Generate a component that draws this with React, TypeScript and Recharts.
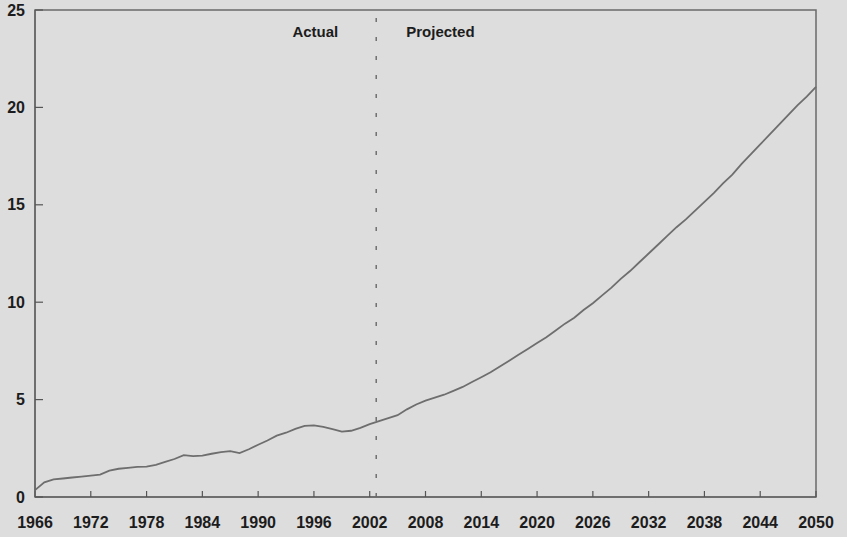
import React from "react";
import { LineChart, Line, XAxis, YAxis, ReferenceLine, ReferenceArea } from "recharts";

const years: number[] = [
  1966, 1967, 1968, 1969, 1970, 1971, 1972, 1973, 1974, 1975, 1976, 1977, 1978, 1979,
  1980, 1981, 1982, 1983, 1984, 1985, 1986, 1987, 1988, 1989, 1990, 1991, 1992, 1993,
  1994, 1995, 1996, 1997, 1998, 1999, 2000, 2001, 2002, 2003, 2004, 2005, 2006, 2007,
  2008, 2009, 2010, 2011, 2012, 2013, 2014, 2015, 2016, 2017, 2018, 2019, 2020, 2021,
  2022, 2023, 2024, 2025, 2026, 2027, 2028, 2029, 2030, 2031, 2032, 2033, 2034, 2035,
  2036, 2037, 2038, 2039, 2040, 2041, 2042, 2043, 2044, 2045, 2046, 2047, 2048, 2049, 2050,
];

const values: number[] = [
  0.35, 0.75, 0.9, 0.95, 1.0, 1.05, 1.1, 1.15, 1.35, 1.45, 1.5, 1.55, 1.56, 1.65,
  1.8, 1.95, 2.15, 2.1, 2.12, 2.22, 2.3, 2.35, 2.25, 2.45, 2.68, 2.9, 3.15, 3.3,
  3.5, 3.65, 3.68, 3.6, 3.48, 3.36, 3.4, 3.55, 3.74, 3.9, 4.05, 4.2, 4.5, 4.75,
  4.95, 5.1, 5.25, 5.45, 5.65, 5.9, 6.15, 6.4, 6.7, 7.0, 7.3, 7.6, 7.9, 8.2,
  8.55, 8.9, 9.2, 9.6, 9.95, 10.35, 10.75, 11.2, 11.6, 12.05, 12.5, 12.95, 13.4, 13.85,
  14.25, 14.7, 15.15, 15.6, 16.1, 16.55, 17.1, 17.6, 18.1, 18.6, 19.1, 19.6, 20.1, 20.55, 21.05,
];

const xTicks: number[] = [1966, 1972, 1978, 1984, 1990, 1996, 2002, 2008, 2014, 2020, 2026, 2032, 2038, 2044, 2050];
const yTicks: number[] = [0, 5, 10, 15, 20, 25];

const divideYear = 2002.7;
const leftLabel = "Actual";
const rightLabel = "Projected";

const data = years.map((y, i) => ({ year: y, value: values[i] }));

const FONT = "'Liberation Sans', Arial, sans-serif";
const tickStyle = { fontFamily: FONT, fontSize: 16, fontWeight: 700, fill: "#1c1c1c" };

const DividerLabel = (props: any) => {
  const vb = props.viewBox || {};
  const x = vb.x ?? 0;
  const y = vb.y ?? 0;
  return (
    <g>
      <text x={x - 38} y={y + 27} textAnchor="end" style={{ ...tickStyle, fontSize: 15 }}>
        {leftLabel}
      </text>
      <text x={x + 30} y={y + 27} textAnchor="start" style={{ ...tickStyle, fontSize: 15 }}>
        {rightLabel}
      </text>
    </g>
  );
};

export default function App() {
  return (
    <div style={{ position: "absolute", left: 0, top: 0, width: 847, height: 537, background: "#dddddd" }}>
      <LineChart width={847} height={537} data={data} margin={{ top: 10, right: 31, bottom: 0, left: 0 }}>
        <ReferenceArea
          x1={1966}
          x2={2050}
          y1={0}
          y2={25}
          fill="none"
          stroke="#6a6a6a"
          strokeWidth={1.5}
          ifOverflow="visible"
        />
        <XAxis
          dataKey="year"
          type="number"
          domain={[1966, 2050]}
          ticks={xTicks}
          interval={0}
          height={40}
          tickSize={-6}
          tickMargin={26}
          tick={tickStyle}
          axisLine={{ stroke: "#666", strokeWidth: 1.5 }}
          tickLine={{ stroke: "#555", strokeWidth: 1.2 }}
        />
        <YAxis
          type="number"
          domain={[0, 25]}
          ticks={yTicks}
          interval={0}
          width={35}
          tickSize={-8}
          tickMargin={18}
          tick={tickStyle}
          axisLine={{ stroke: "#666", strokeWidth: 1.5 }}
          tickLine={{ stroke: "#555", strokeWidth: 1.2 }}
        />
        <ReferenceLine
          x={divideYear}
          stroke="#707070"
          strokeWidth={1.5}
          strokeDasharray="4 15"
          label={<DividerLabel />}
        />
        <Line
          type="linear"
          dataKey="value"
          stroke="#6e6e6e"
          strokeWidth={1.8}
          dot={false}
          isAnimationActive={false}
        />
      </LineChart>
    </div>
  );
}
